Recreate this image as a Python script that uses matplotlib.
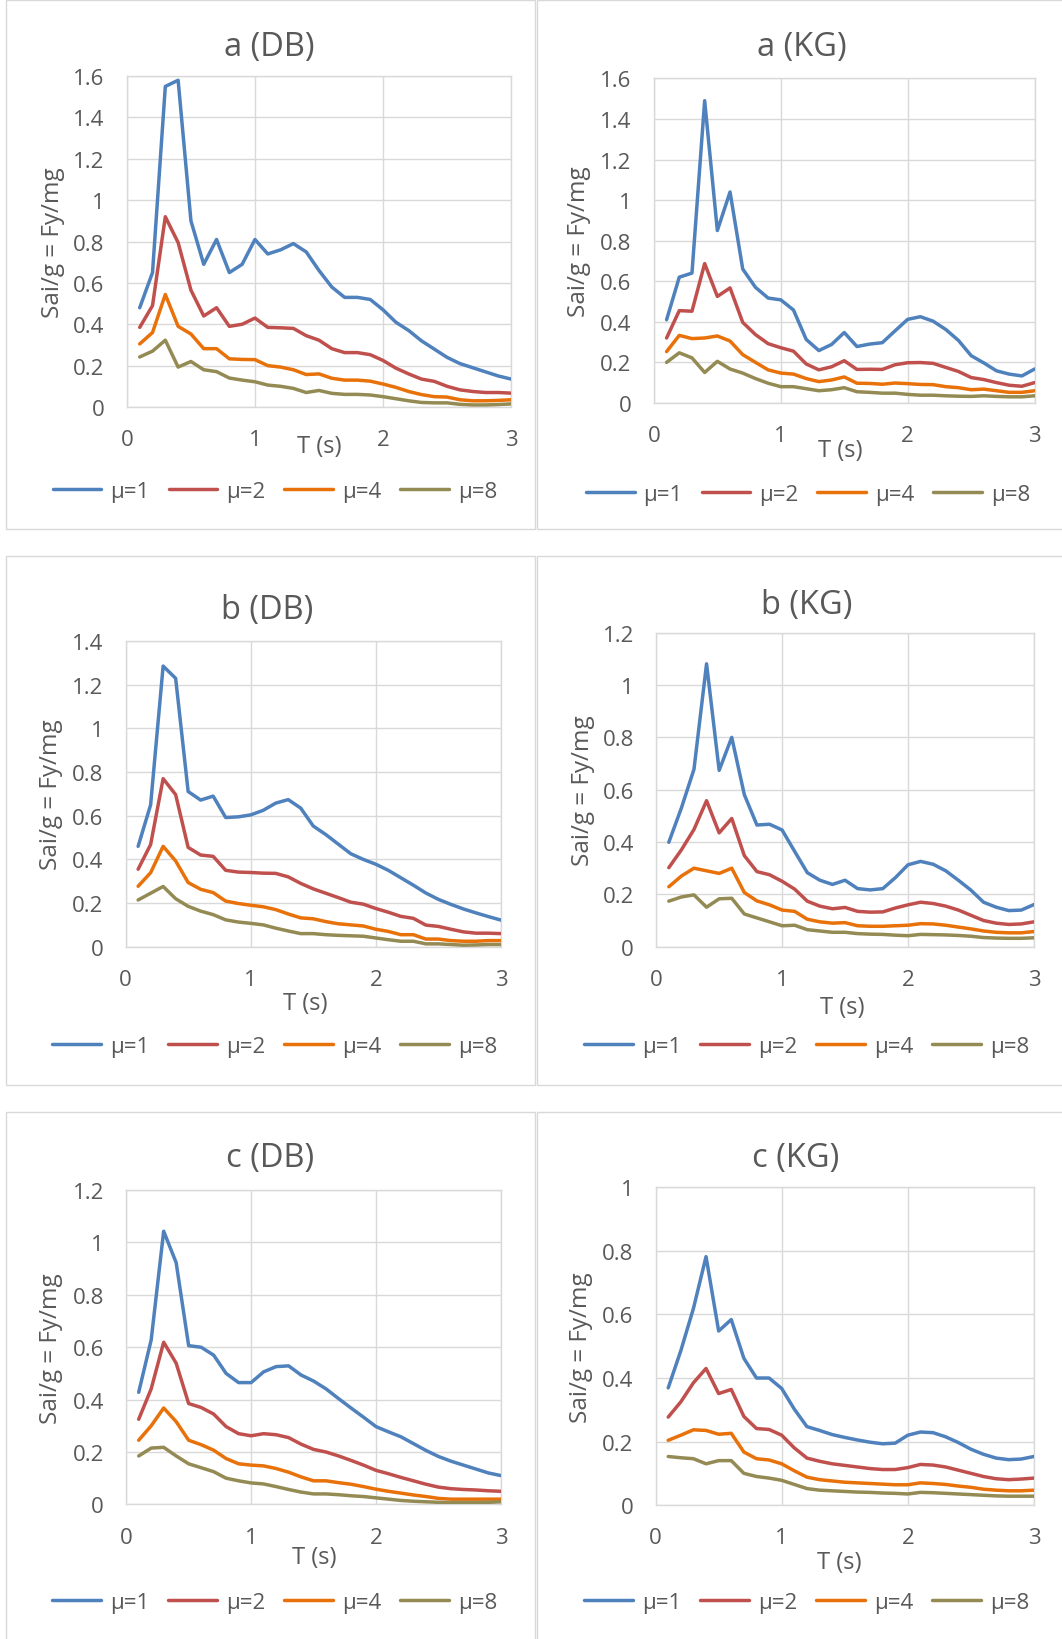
import numpy as np
import matplotlib
matplotlib.use("Agg")
import matplotlib.pyplot as plt
from matplotlib.patches import Rectangle

plt.rcParams['font.family'] = ['Open Sans', 'DejaVu Sans']

# periods
T = [0.1, 0.2, 0.3, 0.4, 0.5, 0.6, 0.7, 0.8, 0.9, 1.0,
     1.1, 1.2, 1.3, 1.4, 1.5, 1.6, 1.7, 1.8, 1.9, 2.0,
     2.1, 2.2, 2.3, 2.4, 2.5, 2.6, 2.7, 2.8, 2.9, 3.0]

labels = ["μ=1", "μ=2", "μ=4", "μ=8"]

a_db_mu1 = [0.48, 0.65, 1.55, 1.58, 0.90, 0.69, 0.81, 0.65, 0.69, 0.81, 0.74, 0.76, 0.79, 0.75, 0.66, 0.58, 0.53, 0.53, 0.52, 0.47, 0.41, 0.37, 0.32, 0.28, 0.24, 0.21, 0.19, 0.17, 0.15, 0.135]
a_db_mu2 = [0.385, 0.49, 0.92, 0.795, 0.565, 0.44, 0.48, 0.39, 0.40, 0.43, 0.385, 0.383, 0.38, 0.345, 0.323, 0.282, 0.263, 0.263, 0.253, 0.225, 0.188, 0.16, 0.135, 0.124, 0.10, 0.083, 0.075, 0.07, 0.07, 0.067]
a_db_mu4 = [0.305, 0.36, 0.544, 0.39, 0.353, 0.282, 0.282, 0.233, 0.23, 0.229, 0.20, 0.193, 0.18, 0.157, 0.16, 0.139, 0.13, 0.13, 0.125, 0.111, 0.095, 0.075, 0.06, 0.05, 0.048, 0.035, 0.03, 0.03, 0.032, 0.035]
a_db_mu8 = [0.242, 0.27, 0.323, 0.193, 0.22, 0.18, 0.171, 0.14, 0.13, 0.122, 0.106, 0.10, 0.09, 0.07, 0.08, 0.066, 0.061, 0.061, 0.058, 0.05, 0.04, 0.03, 0.022, 0.02, 0.02, 0.013, 0.01, 0.01, 0.012, 0.015]

a_kg_mu1 = [0.41, 0.62, 0.64, 1.49, 0.85, 1.04, 0.66, 0.57, 0.517, 0.508, 0.458, 0.313, 0.258, 0.288, 0.347, 0.278, 0.29, 0.297, 0.355, 0.412, 0.425, 0.403, 0.362, 0.308, 0.233, 0.197, 0.158, 0.142, 0.133, 0.167]
a_kg_mu2 = [0.32, 0.455, 0.452, 0.687, 0.525, 0.567, 0.397, 0.337, 0.292, 0.272, 0.255, 0.192, 0.163, 0.178, 0.208, 0.165, 0.166, 0.165, 0.188, 0.198, 0.199, 0.195, 0.175, 0.155, 0.125, 0.115, 0.10, 0.087, 0.082, 0.10]
a_kg_mu4 = [0.253, 0.333, 0.317, 0.32, 0.33, 0.305, 0.238, 0.20, 0.163, 0.147, 0.142, 0.12, 0.105, 0.113, 0.128, 0.097, 0.096, 0.092, 0.098, 0.095, 0.091, 0.09, 0.08, 0.075, 0.065, 0.068, 0.06, 0.052, 0.052, 0.06]
a_kg_mu8 = [0.20, 0.247, 0.222, 0.15, 0.205, 0.167, 0.147, 0.12, 0.097, 0.08, 0.08, 0.07, 0.06, 0.065, 0.075, 0.055, 0.052, 0.048, 0.048, 0.042, 0.038, 0.038, 0.035, 0.033, 0.032, 0.035, 0.032, 0.03, 0.03, 0.035]

b_db_mu1 = [0.46, 0.65, 1.286, 1.23, 0.711, 0.672, 0.69, 0.592, 0.595, 0.604, 0.625, 0.658, 0.674, 0.635, 0.553, 0.514, 0.47, 0.426, 0.40, 0.378, 0.35, 0.316, 0.282, 0.246, 0.217, 0.194, 0.173, 0.155, 0.138, 0.122]
b_db_mu2 = [0.355, 0.468, 0.77, 0.697, 0.455, 0.42, 0.414, 0.35, 0.342, 0.34, 0.337, 0.336, 0.32, 0.29, 0.265, 0.245, 0.225, 0.204, 0.195, 0.175, 0.158, 0.139, 0.13, 0.099, 0.093, 0.08, 0.068, 0.062, 0.062, 0.06]
b_db_mu4 = [0.277, 0.339, 0.46, 0.393, 0.294, 0.263, 0.248, 0.209, 0.198, 0.19, 0.183, 0.17, 0.15, 0.132, 0.128, 0.115, 0.105, 0.10, 0.095, 0.08, 0.07, 0.055, 0.055, 0.035, 0.035, 0.028, 0.025, 0.025, 0.028, 0.028]
b_db_mu8 = [0.214, 0.245, 0.276, 0.22, 0.185, 0.163, 0.147, 0.123, 0.113, 0.107, 0.10, 0.085, 0.072, 0.06, 0.06, 0.055, 0.052, 0.05, 0.048, 0.04, 0.032, 0.025, 0.025, 0.013, 0.013, 0.01, 0.007, 0.008, 0.01, 0.01]

b_kg_mu1 = [0.399, 0.53, 0.678, 1.081, 0.674, 0.80, 0.581, 0.465, 0.468, 0.446, 0.364, 0.283, 0.254, 0.238, 0.254, 0.222, 0.217, 0.222, 0.264, 0.313, 0.326, 0.315, 0.29, 0.254, 0.216, 0.17, 0.151, 0.138, 0.14, 0.161]
b_kg_mu2 = [0.302, 0.37, 0.448, 0.558, 0.435, 0.49, 0.348, 0.287, 0.275, 0.25, 0.22, 0.174, 0.155, 0.145, 0.15, 0.135, 0.132, 0.133, 0.148, 0.16, 0.17, 0.165, 0.155, 0.14, 0.12, 0.10, 0.09, 0.085, 0.087, 0.095]
b_kg_mu4 = [0.229, 0.27, 0.30, 0.29, 0.28, 0.30, 0.207, 0.175, 0.16, 0.14, 0.135, 0.105, 0.095, 0.09, 0.092, 0.08, 0.078, 0.078, 0.08, 0.082, 0.088, 0.087, 0.082, 0.075, 0.068, 0.06, 0.055, 0.053, 0.053, 0.058]
b_kg_mu8 = [0.174, 0.19, 0.198, 0.151, 0.183, 0.185, 0.125, 0.11, 0.095, 0.08, 0.082, 0.065, 0.06, 0.055, 0.055, 0.05, 0.048, 0.047, 0.044, 0.042, 0.047, 0.046, 0.045, 0.043, 0.04, 0.035, 0.033, 0.032, 0.032, 0.034]

c_db_mu1 = [0.428, 0.628, 1.043, 0.923, 0.606, 0.60, 0.57, 0.50, 0.465, 0.465, 0.506, 0.526, 0.529, 0.494, 0.471, 0.441, 0.404, 0.368, 0.333, 0.297, 0.277, 0.258, 0.232, 0.206, 0.183, 0.165, 0.15, 0.135, 0.12, 0.11]
c_db_mu2 = [0.325, 0.441, 0.619, 0.539, 0.385, 0.37, 0.345, 0.297, 0.27, 0.262, 0.27, 0.266, 0.255, 0.23, 0.21, 0.20, 0.185, 0.168, 0.15, 0.13, 0.117, 0.103, 0.09, 0.077, 0.066, 0.06, 0.057, 0.055, 0.052, 0.05]
c_db_mu4 = [0.245, 0.30, 0.368, 0.316, 0.245, 0.228, 0.207, 0.175, 0.155, 0.15, 0.147, 0.137, 0.123, 0.105, 0.09, 0.09, 0.083, 0.077, 0.068, 0.058, 0.05, 0.043, 0.036, 0.03, 0.023, 0.02, 0.02, 0.02, 0.02, 0.02]
c_db_mu8 = [0.185, 0.215, 0.218, 0.185, 0.155, 0.14, 0.125, 0.10, 0.09, 0.082, 0.078, 0.068, 0.057, 0.047, 0.04, 0.04, 0.037, 0.033, 0.03, 0.025, 0.02, 0.015, 0.012, 0.01, 0.008, 0.007, 0.007, 0.007, 0.008, 0.01]

c_kg_mu1 = [0.369, 0.486, 0.619, 0.782, 0.548, 0.584, 0.462, 0.40, 0.40, 0.367, 0.302, 0.247, 0.235, 0.222, 0.213, 0.205, 0.198, 0.193, 0.195, 0.22, 0.23, 0.228, 0.215, 0.197, 0.176, 0.16, 0.148, 0.143, 0.145, 0.153]
c_kg_mu2 = [0.277, 0.325, 0.385, 0.43, 0.351, 0.364, 0.279, 0.241, 0.238, 0.22, 0.18, 0.148, 0.138, 0.13, 0.125, 0.12, 0.115, 0.112, 0.112, 0.118, 0.128, 0.126, 0.12, 0.11, 0.10, 0.09, 0.083, 0.08, 0.082, 0.085]
c_kg_mu4 = [0.204, 0.22, 0.237, 0.235, 0.223, 0.226, 0.167, 0.146, 0.142, 0.13, 0.108, 0.088, 0.08, 0.076, 0.072, 0.07, 0.068, 0.066, 0.064, 0.064, 0.07, 0.068, 0.065, 0.06, 0.056, 0.05, 0.047, 0.045, 0.045, 0.047]
c_kg_mu8 = [0.153, 0.149, 0.146, 0.13, 0.14, 0.14, 0.10, 0.09, 0.085, 0.078, 0.065, 0.052, 0.047, 0.045, 0.043, 0.041, 0.04, 0.038, 0.037, 0.035, 0.04, 0.039, 0.037, 0.035, 0.033, 0.031, 0.029, 0.028, 0.028, 0.028]

colors = ['#4F81BD', '#C0504D', '#E8710A', '#948A54']
grid_col = '#D9D9D9'
text_col = '#595959'

W, H = 1062, 1640


def fx(px):
    return px / W


def fy(py):
    return 1 - py / H


def draw_panel(fig, title, series, ymax, box, plot, title_xy, xlab_xy, ylab_x, leg_xy):
    # outer chart border
    bx0, by0, bx1, by1 = box
    fig.add_artist(Rectangle((fx(bx0), fy(by1)), fx(bx1 - bx0), (by1 - by0) / H,
                             transform=fig.transFigure, fill=False,
                             ec=grid_col, lw=1.0))
    x0, x1, y0, y1 = plot
    ax = fig.add_axes([fx(x0), fy(y1), fx(x1 - x0), (y1 - y0) / H])
    for i, s in enumerate(series):
        ax.plot(T, s, color=colors[i], lw=2.5, label=labels[i], zorder=3,
                solid_joinstyle='round', solid_capstyle='round')
    ax.set_xlim(0, 3)
    ax.set_ylim(0, ymax)
    ax.set_xticks([0, 1, 2, 3])
    yt = np.arange(0, ymax + 1e-9, 0.2)
    ax.set_yticks(yt)
    ax.set_yticklabels(["%g" % round(v, 1) for v in yt])
    ax.grid(True, color=grid_col, lw=1.0)
    for sp in ax.spines.values():
        sp.set_color(grid_col)
        sp.set_linewidth(1.0)
    ax.tick_params(length=0, labelsize=16, colors=text_col, pad=16)
    ax.tick_params(axis='x', pad=16)

    fig.text(fx(title_xy[0]), fy(title_xy[1]), title, fontsize=23.5,
             color=text_col, ha='center', va='center')
    fig.text(fx(xlab_xy[0]), fy(xlab_xy[1]), "T (s)", fontsize=17,
             color=text_col, ha='center', va='center')
    fig.text(fx(ylab_x), fy((y0 + y1) / 2), "Sai/g = Fy/mg", fontsize=17.5,
             color=text_col, ha='center', va='center', rotation=90)
    ax.legend(loc='center', bbox_to_anchor=(fx(leg_xy[0]), fy(leg_xy[1])),
              bbox_transform=fig.transFigure, ncol=4, frameon=False,
              fontsize=16, handlelength=2.2, handletextpad=0.4,
              columnspacing=0.85, labelcolor=text_col)
    return ax


fig = plt.figure(figsize=(W / 100, H / 100), dpi=100)

left_box = (5.7, 534.7)
right_box = (537.3, 1066.3)
rows = [(0.7, 529.7), (557.0, 1086.0), (1112.7, 1641.7)]

draw_panel(fig, "a (DB)", [a_db_mu1, a_db_mu2, a_db_mu4, a_db_mu8], 1.6,
           (left_box[0], rows[0][0], left_box[1], rows[0][1]),
           (126.9, 511.1, 77.1, 408.0), (269.5, 47.3), (319, 446.8), 52.9, (275, 492.7))
draw_panel(fig, "a (KG)", [a_kg_mu1, a_kg_mu2, a_kg_mu4, a_kg_mu8], 1.6,
           (right_box[0], rows[0][0], right_box[1], rows[0][1]),
           (653.9, 1034.6, 79.4, 403.9), (802.1, 47.3), (840.5, 451.2), 579.2, (808, 495.1))
draw_panel(fig, "b (DB)", [b_db_mu1, b_db_mu2, b_db_mu4, b_db_mu8], 1.4,
           (left_box[0], rows[1][0], left_box[1], rows[1][1]),
           (125.6, 500.9, 642.2, 947.7), (267.3, 610.8), (305, 1004.5), 51.2, (274.6, 1047.7))
draw_panel(fig, "b (KG)", [b_kg_mu1, b_kg_mu2, b_kg_mu4, b_kg_mu8], 1.2,
           (right_box[0], rows[1][0], right_box[1], rows[1][1]),
           (656.2, 1033.9, 633.7, 947.7), (807.1, 605.7), (842.7, 1007.9), 582.6, (806.6, 1047.7))
draw_panel(fig, "c (DB)", [c_db_mu1, c_db_mu2, c_db_mu4, c_db_mu8], 1.2,
           (left_box[0], rows[2][0], left_box[1], rows[2][1]),
           (126.2, 500.9, 1191.1, 1505.4), (269.9, 1159), (313.9, 1557.8), 51.2, (274.6, 1603.4))
draw_panel(fig, "c (KG)", [c_kg_mu1, c_kg_mu2, c_kg_mu4, c_kg_mu8], 1.0,
           (right_box[0], rows[2][0], right_box[1], rows[2][1]),
           (655.6, 1033.9, 1188.4, 1506.1), (795.5, 1159), (839.3, 1562.9), 580.9, (806.6, 1603.4))

fig.savefig("out.png", dpi=100, facecolor='white')
